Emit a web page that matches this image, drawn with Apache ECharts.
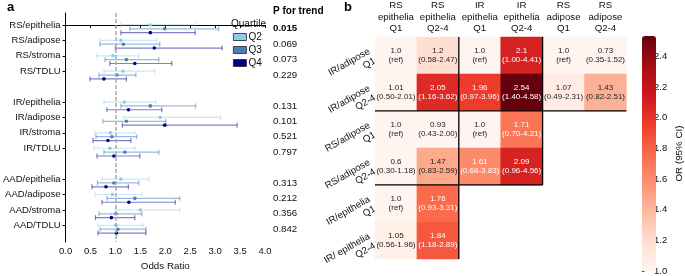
<!DOCTYPE html>
<html>
<head>
<meta charset="utf-8">
<script src="https://cdn.jsdelivr.net/npm/echarts@6/dist/echarts.min.js"></script>
<style>
  html, body { margin: 0; padding: 0; background: #fff; }
  #main { width: 685px; height: 276px; }
</style>
</head>
<body>
<div id="main"></div>
<script>
// ---- panel a: forest plot ----
const groups = ['RS/epithelia', 'RS/adipose', 'RS/stroma', 'RS/TDLU',
  'IR/epithelia', 'IR/adipose', 'IR/stroma', 'IR/TDLU',
  'AAD/epithelia', 'AAD/adipose', 'AAD/stroma', 'AAD/TDLU'];
// row slot of each group (gaps between RS / IR / AAD)
const slots = [0, 1, 2, 3, 5, 6, 7, 8, 10, 11, 12, 13];
// [OR, lower, upper]
const q2 = [[1.70, 1.11, 2.60], [1.11, 0.69, 1.83], [0.95, 0.62, 1.47], [1.15, 0.77, 1.79],
  [1.18, 0.77, 1.81], [1.90, 1.17, 3.11], [0.90, 0.59, 1.39], [0.89, 0.57, 1.39],
  [1.11, 0.73, 1.67], [0.94, 0.59, 1.53], [1.50, 1.00, 2.29], [1.01, 0.65, 1.55]];
const q3 = [[1.99, 1.29, 3.07], [1.16, 0.69, 1.89], [1.22, 0.79, 1.87], [1.03, 0.67, 1.41],
  [1.70, 1.11, 2.61], [1.22, 0.75, 2.01], [0.93, 0.61, 1.43], [1.19, 0.77, 1.87],
  [0.97, 0.64, 1.47], [1.39, 0.83, 2.29], [1.01, 0.67, 1.53], [1.05, 0.69, 1.61]];
const q4 = [[1.70, 1.11, 2.60], [1.78, 1.00, 3.14], [1.39, 0.89, 2.13], [0.77, 0.49, 1.22],
  [1.26, 0.83, 1.93], [1.99, 1.14, 3.44], [0.85, 0.55, 1.31], [0.97, 0.63, 1.49],
  [0.81, 0.53, 1.26], [1.27, 0.73, 2.20], [0.92, 0.60, 1.39], [1.02, 0.65, 1.61]];
const pTrend = ['0.015', '0.069', '0.073', '0.229', '0.131', '0.101',
  '0.521', '0.797', '0.313', '0.212', '0.356', '0.842'];
const pSignificant = [true, false, false, false, false, false,
  false, false, false, false, false, false];
const xTicks = [0, 0.5, 1, 1.5, 2, 2.5, 3, 3.5, 4];

// ---- panel b: heatmap ----
const hmCols = ['RS\nepithelia\nQ1', 'RS\nepithelia\nQ2-4', 'IR\nepithelia\nQ1',
  'IR\nepithelia\nQ2-4', 'RS\nadipose\nQ1', 'RS\nadipose\nQ2-4'];
const hmRows = ['IR/adipose\nQ1', 'IR/adipose\nQ2-4', 'RS/adipose\nQ1',
  'RS/adipose\nQ2-4', 'IR/epithelia\nQ1', 'IR/ epithelia\nQ2-4'];
const hmOR = [
  ['1.0', '1.2', '1.0', '2.1', '1.0', '0.73'],
  ['1.01', '2.05', '1.96', '2.54', '1.07', '1.43'],
  ['1.0', '0.93', '1.0', '1.71', null, null],
  ['0.6', '1.47', '1.61', '2.09', null, null],
  ['1.0', '1.76', null, null, null, null],
  ['1.05', '1.84', null, null, null, null]];
const hmCI = [
  ['ref', '0.58-2.47', 'ref', '1.00-4.41', 'ref', '0.35-1.52'],
  ['0.50-2.01', '1.16-3.62', '0.97-3.96', '1.40-4.58', '0.49-2.31', '0.82-2.51'],
  ['ref', '0.43-2.00', 'ref', '0.70-4.21', null, null],
  ['0.30-1.18', '0.83-2.59', '0.68-3.83', '0.96-4.56', null, null],
  ['ref', '0.93-3.31', null, null, null, null],
  ['0.56-1.96', '1.18-2.89', null, null, null, null]];
// block separators in cell-edge units: [x0, y0, x1, y1]
const blockLines = [[2, 0, 2, 6], [4, 0, 4, 4], [0, 2, 6, 2], [0, 4, 4, 4]];
const barTicks = [1.0, 1.2, 1.4, 1.6, 1.8, 2.0, 2.2, 2.4];
const orMin = 1.0, orMax = 2.534;

const FONT = '"Liberation Sans", Arial, sans-serif';
const chart = echarts.init(document.getElementById('main'));

function ciSeries(name, rows, off, dot, line) {
  return {
    name: name,
    type: 'custom',
    xAxisIndex: 0,
    yAxisIndex: 0,
    clip: false,
    itemStyle: { color: dot },
    encode: { x: [0, 1, 2], y: 3 },
    data: rows.map((r, i) => [r[0], r[1], r[2], slots[i] + off]),
    renderItem: function (params, api) {
      const y = api.value(3);
      const p = api.coord([api.value(0), y]);
      const a = api.coord([api.value(1), y]);
      const b = api.coord([api.value(2), y]);
      const st = { stroke: line, lineWidth: 1.2 };
      return {
        type: 'group',
        children: [
          { type: 'line', shape: { x1: a[0], y1: a[1], x2: b[0], y2: b[1] }, style: st },
          { type: 'line', shape: { x1: a[0], y1: a[1] - 2.5, x2: a[0], y2: a[1] + 2.5 }, style: st },
          { type: 'line', shape: { x1: b[0], y1: b[1] - 2.5, x2: b[0], y2: b[1] + 2.5 }, style: st },
          { type: 'circle', shape: { cx: p[0], cy: p[1], r: 1.8 }, style: { fill: dot } }
        ]
      };
    }
  };
}

const hmData = [];
hmOR.forEach((row, r) => {
  row.forEach((v, c) => {
    if (v === null) return;
    const n = parseFloat(v);
    hmData.push({
      value: [c, r, Math.min(orMax, Math.max(orMin, n))],
      label: { color: n > 1.55 ? '#fff' : '#222' },
      txt: v + '\n(' + hmCI[r][c] + ')'
    });
  });
});

const qSeries = [
  ciSeries('Q2', q2, 0, '#87ceeb', 'rgba(135,206,235,0.45)'),
  ciSeries('Q3', q3, 0.25, '#4682b4', 'rgba(70,130,180,0.55)'),
  ciSeries('Q4', q4, 0.5, '#00008b', 'rgba(0,0,139,0.5)')
];
qSeries[0].markLine = {
  silent: true,
  symbol: 'none',
  label: { show: false },
  lineStyle: { color: '#aaa', type: [4, 2], width: 1.5 },
  data: [{ xAxis: 1 }]
};

chart.setOption({
  animation: false,
  textStyle: { fontFamily: FONT },
  graphic: [
    { type: 'text', left: 7, top: 1, style: { text: 'a', font: 'bold 13px ' + FONT, fill: '#000' } },
    { type: 'text', left: 344, top: 1, style: { text: 'b', font: 'bold 13px ' + FONT, fill: '#000' } },
    { type: 'text', left: 273, top: 6, style: { text: 'P for trend', font: 'bold 10px ' + FONT, fill: '#000' } },
    { type: 'text', left: 231, top: 19, style: { text: 'Quartile', font: '10px ' + FONT, fill: '#111' } }
  ],
  legend: {
    data: ['Q2', 'Q3', 'Q4'],
    orient: 'vertical',
    left: 233,
    top: 32,
    padding: 0,
    itemWidth: 13,
    itemHeight: 7,
    itemGap: 3,
    icon: 'rect',
    itemStyle: { borderColor: '#222', borderWidth: 0.8 },
    textStyle: { fontSize: 10, color: '#111', padding: [0, 0, 0, -3] },
    selectedMode: false
  },
  grid: [
    { left: 65, top: 13, width: 200, height: 230 },
    { left: 375, top: 36, width: 251.4, height: 235.2 },
    { left: 642, top: 36, width: 14, height: 235.2 }
  ],
  xAxis: [
    {
      gridIndex: 0, type: 'value', min: 0, max: 4, interval: 0.5,
      axisLine: { lineStyle: { color: '#000', width: 1 } },
      axisTick: { length: 3, lineStyle: { color: '#000' } },
      axisLabel: { fontSize: 9.5, color: '#111', margin: 4, formatter: v => v.toFixed(1) },
      splitLine: { show: false },
      name: 'Odds Ratio', nameLocation: 'middle', nameGap: 19,
      nameTextStyle: { fontSize: 9.8, color: '#111' }
    },
    {
      gridIndex: 1, type: 'category', position: 'top', data: hmCols,
      axisLine: { show: false },
      axisTick: { length: 2.5, alignWithLabel: true, lineStyle: { color: '#444' } },
      axisLabel: { interval: 0, fontSize: 9.7, lineHeight: 11.3, color: '#111', margin: 3 },
      splitLine: { show: false }
    },
    { gridIndex: 2, type: 'value', show: false }
  ],
  yAxis: [
    {
      gridIndex: 0, type: 'value', inverse: true, min: -0.775, max: 14.08,
      axisLine: { show: true, lineStyle: { color: '#000', width: 1 } },
      axisTick: { show: true, length: 3, customValues: slots, lineStyle: { color: '#000' } },
      axisLabel: {
        customValues: slots, fontSize: 9.5, color: '#111', margin: 5,
        formatter: v => groups[slots.indexOf(Math.round(v))] || ''
      },
      splitLine: { show: false }
    },
    {
      gridIndex: 0, type: 'value', inverse: true, min: -0.775, max: 14.08, position: 'right',
      axisLine: { show: false },
      axisTick: { show: false },
      axisLabel: {
        customValues: slots.map(s => s + 0.25), fontSize: 9.7, color: '#111', margin: 8,
        formatter: v => {
          const i = slots.indexOf(Math.round(v - 0.25));
          if (i < 0) return '';
          return pSignificant[i] ? '{b|' + pTrend[i] + '}' : pTrend[i];
        },
        rich: { b: { fontWeight: 'bold', fontSize: 9.7, color: '#000' } }
      },
      splitLine: { show: false }
    },
    {
      gridIndex: 1, type: 'category', inverse: true, data: hmRows,
      axisLine: { show: false },
      axisTick: { length: 2.5, alignWithLabel: true, lineStyle: { color: '#444' } },
      axisLabel: { interval: 0, rotate: 30, fontSize: 9.7, lineHeight: 11, color: '#111', margin: 3 },
      splitLine: { show: false }
    },
    {
      gridIndex: 2, type: 'value', position: 'right', min: orMin, max: orMax,
      axisLine: { show: false },
      axisTick: { show: true, length: 2.5, customValues: barTicks, lineStyle: { color: '#444' } },
      axisLabel: { customValues: barTicks, fontSize: 9.5, color: '#111', margin: 2, formatter: v => v.toFixed(1) },
      splitLine: { show: false },
      name: 'OR (95% CI)', nameLocation: 'middle', nameRotate: 90, nameGap: 22,
      nameTextStyle: { fontSize: 9.8, color: '#111' }
    }
  ],
  visualMap: {
    type: 'continuous',
    seriesIndex: 3,
    dimension: 2,
    min: orMin,
    max: orMax,
    calculable: false,
    left: 642,
    top: 36,
    padding: 0,
    itemWidth: 14,
    itemHeight: 235.2,
    text: null,
    showLabel: false,
    inRange: { color: ['#fff5f0', '#fee0d2', '#fcbba1', '#fc9272', '#fb6a4a', '#ef3b2c', '#cb181d', '#a50f15', '#67000d'] }
  },
  series: qSeries.concat([
    {
      type: 'heatmap',
      xAxisIndex: 1,
      yAxisIndex: 2,
      data: hmData,
      label: {
        show: true, fontSize: 8, lineHeight: 9.5,
        formatter: p => hmData[p.dataIndex].txt
      },
      itemStyle: { borderWidth: 0 },
      emphasis: { disabled: true }
    },
    {
      type: 'custom',
      xAxisIndex: 1,
      yAxisIndex: 2,
      z: 5,
      clip: false,
      silent: true,
      encode: { x: [0, 2], y: [1, 3] },
      data: blockLines,
      renderItem: function (params, api) {
        const sz = api.size([1, 1]);
        const ex = e => e < 6 ? api.coord([e, 0])[0] - sz[0] / 2 : api.coord([5, 0])[0] + sz[0] / 2;
        const ey = e => e < 6 ? api.coord([0, e])[1] - sz[1] / 2 : api.coord([0, 5])[1] + sz[1] / 2;
        return {
          type: 'line',
          shape: { x1: ex(api.value(0)), y1: ey(api.value(1)), x2: ex(api.value(2)), y2: ey(api.value(3)) },
          style: { stroke: '#000', lineWidth: 1.3 }
        };
      }
    }
  ])
});

window.addEventListener('resize', () => chart.resize());
</script>
</body>
</html>
